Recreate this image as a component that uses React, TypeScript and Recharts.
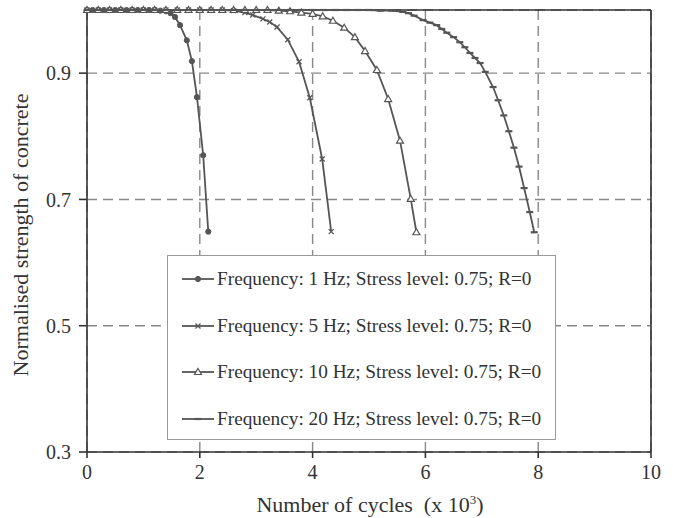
import React from "react";
import {
  LineChart,
  Line,
  XAxis,
  YAxis,
  CartesianGrid,
  ReferenceLine,
  Legend,
} from "recharts";

// values (cycles in thousands, normalised strength)
const cycles1Hz = [0, 0.1, 0.2, 0.3, 0.4, 0.5, 0.6, 0.7, 0.8, 0.9, 1.0, 1.1, 1.2, 1.3, 1.4, 1.48, 1.56, 1.65, 1.77, 1.86, 1.95, 2.06, 2.15];
const strength1Hz = [1, 1, 1, 1, 1, 1, 1, 1, 1, 1, 1, 1, 1, 0.999, 0.998, 0.995, 0.989, 0.976, 0.952, 0.919, 0.862, 0.77, 0.649];

const cycles5Hz = [0, 0.2, 0.4, 0.6, 0.8, 1.0, 1.2, 1.4, 1.6, 1.8, 2.0, 2.2, 2.4, 2.6, 2.8, 2.94, 3.12, 3.24, 3.37, 3.56, 3.76, 3.95, 4.17, 4.33];
const strength5Hz = [1, 1, 1, 1, 1, 1, 1, 1, 1, 1, 1, 1, 1, 0.999, 0.996, 0.992, 0.986, 0.981, 0.973, 0.953, 0.918, 0.861, 0.764, 0.649];

const cycles10Hz = [0, 0.2, 0.4, 0.6, 0.8, 1.0, 1.2, 1.4, 1.6, 1.8, 2.0, 2.2, 2.4, 2.6, 2.8, 3.0, 3.2, 3.4, 3.6, 3.8, 4.0, 4.18, 4.36, 4.56, 4.75, 4.93, 5.14, 5.34, 5.55, 5.74, 5.84];
const strength10Hz = [1, 1, 1, 1, 1, 1, 1, 1, 1, 1, 1, 1, 1, 1, 1, 1, 1, 0.999, 0.998, 0.996, 0.994, 0.99, 0.983, 0.972, 0.957, 0.935, 0.905, 0.859, 0.793, 0.701, 0.648];

const cycles20Hz = [0, 0.2, 0.4, 0.6, 0.8, 1.0, 1.2, 1.4, 1.6, 1.8, 2.0, 2.2, 2.4, 2.6, 2.8, 3.0, 3.2, 3.4, 3.6, 3.8, 4.0, 4.2, 4.4, 4.6, 4.8, 5.0, 5.2, 5.4, 5.6, 5.7, 5.8, 5.96, 6.08, 6.2, 6.29, 6.38, 6.5, 6.61, 6.7, 6.79, 6.88, 6.97, 7.06, 7.2, 7.29, 7.39, 7.48, 7.57, 7.66, 7.75, 7.85, 7.93];
const strength20Hz = [1, 1, 1, 1, 1, 1, 1, 1, 1, 1, 1, 1, 1, 1, 1, 1, 1, 1, 1, 1, 1, 1, 1, 1, 1, 1, 0.999, 0.999, 0.997, 0.995, 0.991, 0.984, 0.98, 0.976, 0.97, 0.964, 0.957, 0.949, 0.941, 0.932, 0.924, 0.916, 0.902, 0.878, 0.857, 0.833, 0.808, 0.782, 0.752, 0.718, 0.68, 0.648];

const xTicks = [0, 2, 4, 6, 8, 10];
const yTicks = [0.3, 0.5, 0.7, 0.9];
const seriesNames = [
  "Frequency: 1 Hz; Stress level: 0.75; R=0",
  "Frequency: 5 Hz; Stress level: 0.75; R=0",
  "Frequency: 10 Hz; Stress level: 0.75; R=0",
  "Frequency: 20 Hz; Stress level: 0.75; R=0",
];

const zip = (xs: number[], ys: number[]) => xs.map((x, i) => ({ x, y: ys[i] }));

const LINE = "#555";
const TEXT = "#333";
const FONT = "'Liberation Serif', serif";

type MarkerKind = "circle" | "cross" | "triangle" | "dash";

function Marker({ kind, cx, cy }: { kind: MarkerKind; cx: number; cy: number }) {
  if (kind === "circle") return <circle cx={cx} cy={cy} r={2.6} fill={LINE} stroke={LINE} />;
  if (kind === "cross")
    return (
      <path
        d={`M${cx - 2.5},${cy - 2.5}L${cx + 2.5},${cy + 2.5}M${cx - 2.5},${cy + 2.5}L${cx + 2.5},${cy - 2.5}`}
        stroke={LINE}
        strokeWidth={1.3}
      />
    );
  if (kind === "triangle")
    return (
      <path
        d={`M${cx},${cy - 3.5}L${cx + 3.5},${cy + 2.5}L${cx - 3.5},${cy + 2.5}Z`}
        fill="#fff"
        stroke={LINE}
        strokeWidth={1.2}
      />
    );
  return <path d={`M${cx - 3.5},${cy}L${cx + 3.5},${cy}`} stroke={LINE} strokeWidth={2.2} />;
}

const dotFor = (kind: MarkerKind) => (props: any) =>
  <Marker key={`${kind}-${props.index}`} kind={kind} cx={props.cx} cy={props.cy} />;

const markerKinds: MarkerKind[] = ["circle", "cross", "triangle", "dash"];

function LegendBox() {
  return (
    <div
      style={{
        width: 389,
        height: 185,
        boxSizing: "border-box",
        border: "1px solid #999",
        background: "#fff",
        fontFamily: FONT,
        fontSize: 19.3,
        color: TEXT,
      }}
    >
      {seriesNames.map((name, i) => (
        <div key={name} style={{ display: "flex", alignItems: "center", height: 46.5, paddingLeft: 14 }}>
          <svg width={33} height={12} style={{ marginRight: 2 }}>
            <line x1={0} y1={6} x2={32} y2={6} stroke={LINE} strokeWidth={1.8} />
            <Marker kind={markerKinds[i]} cx={16} cy={6} />
          </svg>
          <span>{name}</span>
        </div>
      ))}
    </div>
  );
}

export default function App() {
  const series = [
    zip(cycles1Hz, strength1Hz),
    zip(cycles5Hz, strength5Hz),
    zip(cycles10Hz, strength10Hz),
    zip(cycles20Hz, strength20Hz),
  ];
  return (
    <div style={{ position: "absolute", left: 0, top: 0, background: "#fff" }}>
      <LineChart width={673} height={518} margin={{ top: 10, right: 22, bottom: 0, left: 0 }}>
        <CartesianGrid stroke="#888" strokeDasharray="10 6" strokeWidth={1.4} />
        <XAxis
          type="number"
          dataKey="x"
          domain={[0, 10]}
          ticks={xTicks}
          allowDuplicatedCategory={false}
          height={66}
          stroke={TEXT}
          strokeWidth={1.6}
          tickSize={6}
          tickMargin={7}
          tick={{ fill: TEXT, fontSize: 20, fontFamily: FONT }}
          label={() => (
            <text x={370} y={512} textAnchor="middle" fill={TEXT} fontSize={22} fontFamily={FONT}>
              {"Number of cycles\u00A0 (x 10"}
              <tspan fontSize={13} dy={-8}>3</tspan>
              <tspan dy={8}>)</tspan>
            </text>
          )}
        />
        <YAxis
          type="number"
          dataKey="y"
          domain={[0.3, 1.0]}
          ticks={yTicks}
          width={87}
          stroke={TEXT}
          strokeWidth={1.6}
          tickSize={8}
          tickMargin={8}
          tick={{ fill: TEXT, fontSize: 20, fontFamily: FONT }}
          label={() => (
            <text
              x={23}
              y={235}
              transform="rotate(-90, 23, 235)"
              textAnchor="middle"
              dominantBaseline="middle"
              fill={TEXT}
              fontSize={22}
              fontFamily={FONT}
            >
              Normalised strength of concrete
            </text>
          )}
        />
        <ReferenceLine y={1.0} stroke={TEXT} strokeWidth={1.6} />
        <ReferenceLine x={10} stroke={TEXT} strokeWidth={1.6} />
        <Legend
          verticalAlign="middle"
          align="center"
          content={() => <LegendBox />}
          wrapperStyle={{ position: "absolute", left: 167, top: 255, width: 389, height: 185 }}
        />
        {series.map((data, i) => (
          <Line
            key={seriesNames[i]}
            data={data}
            dataKey="y"
            name={seriesNames[i]}
            type="linear"
            stroke={LINE}
            strokeWidth={1.8}
            dot={dotFor(markerKinds[i])}
            activeDot={false}
            isAnimationActive={false}
          />
        ))}
      </LineChart>
    </div>
  );
}
